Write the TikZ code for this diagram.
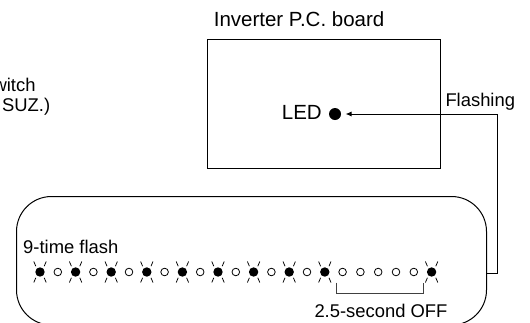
\documentclass[tikz,border=0pt]{standalone}
\usepackage{fontspec}
\setmainfont{Liberation Sans}
\usetikzlibrary{arrows.meta}
\begin{document}
\begin{tikzpicture}[x=1pt,y=-1pt,line width=1pt,
  txt/.style={inner sep=0pt,font=\fontsize{18.4}{20}\selectfont},
  bigtxt/.style={inner sep=0pt,font=\fontsize{20.5}{22}\selectfont},
  onled/.style={circle,fill,inner sep=0pt,minimum size=9.4pt},
  offled/.style={circle,draw,line width=0.8pt,inner sep=0pt,minimum size=7.6pt},
  ray/.style={line width=0.75pt},
  bracketline/.style={line width=0.9pt,black!75}]
\useasboundingbox (0,0) rectangle (530,322);
% left cut-off text
\node[txt,anchor=base east] (sw1) at (36,91.7) {witch};
\node[txt,anchor=base east] (sw2) at (50.7,111.7) {SUZ.)};
% inverter board
\node[bigtxt,anchor=base west] (boardlbl) at (213.3,26.7) {Inverter P.C. board};
\node[draw,anchor=north west,minimum width=233pt,minimum height=129pt,inner sep=0pt] (board) at (207,39) {};
\node[circle,fill,inner sep=0pt,minimum size=12pt] (led) at (335,114) {};
\node[bigtxt,anchor=base east] (ledlbl) at (322.3,119.3) {LED};
% panel
\node[draw,rounded corners=35pt,anchor=north west,minimum width=470pt,minimum height=128.5pt,inner sep=0pt] (panel) at (16,196) {};
% connector
\coordinate (turn) at (497,273);
\draw[-{Latex[length=6pt,width=5pt]},shorten >=4pt] (panel.east |- turn) -- (turn) |- (led.east);
\node[txt,anchor=base west] (flashing) at (445,106) {Flashing};
% labels in panel
\node[txt,anchor=base west] (ninelbl) at (22.7,253.7) {9-time flash};
\node[txt,anchor=base west] (offlbl) at (314,317) {2.5-second OFF};
% LED sequence
\foreach \k in {0,2,...,16,22}{
  \pgfmathsetmacro{\xx}{40+17.8*\k}
  \node[onled] (on\k) at (\xx,272) {};
  \draw[ray] (\xx-6.2,261.5) -- (\xx-4.2,266.2);
  \draw[ray] (\xx+6.2,261.5) -- (\xx+4.2,266.2);
  \draw[ray] (\xx-4.2,277.8) -- (\xx-6.2,282.5);
  \draw[ray] (\xx+4.2,277.8) -- (\xx+6.2,282.5);
}
\foreach \k in {1,3,...,15,17,18,19,20,21}{
  \pgfmathsetmacro{\xx}{40+17.8*\k}
  \node[offled] (off\k) at (\xx,272) {};
}
% bracket
\coordinate (bl) at (336,282.5);
\coordinate (br) at (423,282.5);
\draw[bracketline] (bl) -- ++(0,11) -| (br);
\end{tikzpicture}
\end{document}
